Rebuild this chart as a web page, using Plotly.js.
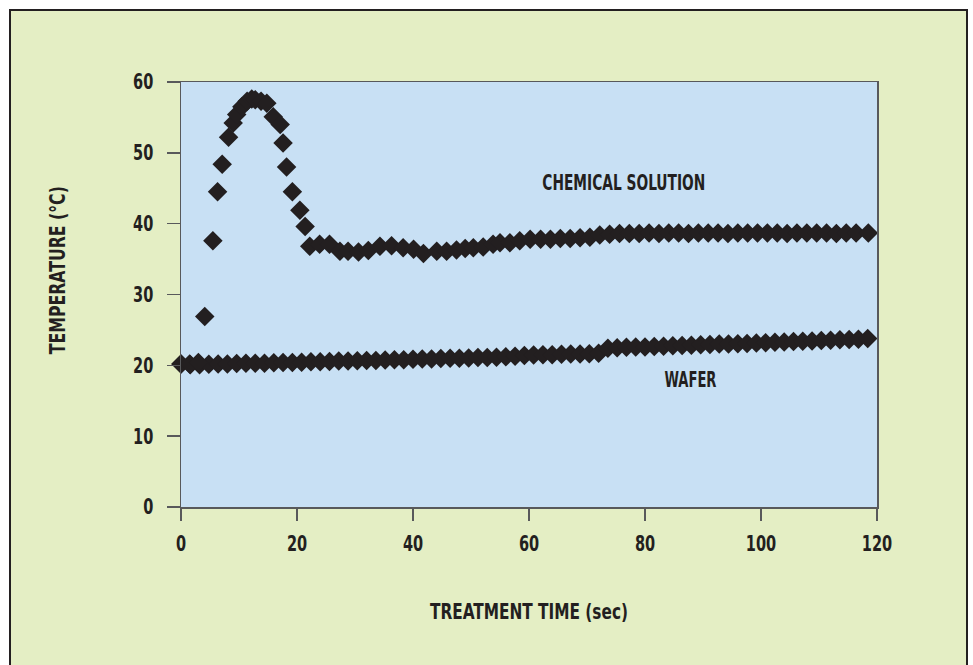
<!DOCTYPE html>
<html>
<head>
<meta charset="utf-8">
<script src="https://cdn.plot.ly/plotly-3.0.1.min.js"></script>
<style>
  html, body { margin: 0; padding: 0; background: #ffffff; overflow: hidden; }
  #frame { position: absolute; left: 9px; top: 9px; width: 955px; height: 660px;
           border-left: 2px solid #231f20; border-top: 2px solid #231f20; border-right: 2px solid #231f20;
           background: #e4eec4; }
  #chart { width: 955px; height: 660px; }
</style>
</head>
<body>
<div id="frame"><div id="chart"></div></div>
<script>
// Chemical solution temperature (°C) vs treatment time (sec)
const chemTime = [0, 1.5, 3, 4.1, 5.5, 6.3, 7.1, 8.2, 9.0, 9.6, 10.5, 11.4, 12.2, 12.8, 13.8, 14.8, 15.9, 17.1, 17.6, 18.2, 19.2, 20.5, 21.4, 22.2,
  23.9, 25.6, 27.4, 28.8, 30.6, 32.3, 34.3, 36.3, 38.3, 40.1, 41.8, 44.1, 45.8, 47.5, 49.0, 50.4, 52.1, 53.8, 55.0, 56.7, 58.4, 60.2, 62.0,
  63.7, 65.4, 67.1, 68.8, 70.5, 72.2, 73.9, 75.6, 77.3, 79.0, 80.7, 82.4, 84.1, 85.8, 87.5, 89.2, 90.9, 92.6, 94.3, 96.0, 97.7, 99.4,
  101.1, 102.8, 104.5, 106.2, 107.9, 109.6, 111.3, 113.0, 114.7, 116.4, 118.5];
const chemTemp = [20.2, 20.2, 20.4, 26.9, 37.6, 44.5, 48.4, 52.2, 54.2, 55.4, 56.5, 57.3, 57.6, 57.5, 57.3, 57.0, 55.1, 54.0, 51.4, 48.0, 44.5, 41.9, 39.6, 36.8,
  37.1, 37.1, 36.1, 36.1, 36.0, 36.2, 36.8, 36.9, 36.6, 36.4, 35.8, 36.1, 36.1, 36.3, 36.5, 36.6, 36.7, 37.1, 37.3, 37.3, 37.6, 37.8, 37.8,
  37.8, 37.9, 37.9, 38.0, 38.1, 38.4, 38.5, 38.6, 38.6, 38.6, 38.7, 38.6, 38.7, 38.7, 38.6, 38.7, 38.7, 38.7, 38.6, 38.7, 38.7, 38.7,
  38.7, 38.7, 38.6, 38.7, 38.7, 38.7, 38.7, 38.6, 38.7, 38.7, 38.7];

// Wafer temperature (°C) vs treatment time (sec)
const waferTime = [0, 1.6, 3.2, 4.8, 6.4, 8.0, 9.6, 11.2, 12.8, 14.4, 16.0, 17.6, 19.2, 20.8, 22.4, 24.0, 25.6, 27.2, 28.8, 30.4,
  32.0, 33.6, 35.2, 36.8, 38.4, 40.0, 41.6, 43.2, 44.8, 46.4, 48.0, 49.6, 51.2, 52.8, 54.4, 56.0, 57.6, 59.2, 60.8, 62.4,
  64.0, 65.6, 67.2, 68.8, 70.4, 72.0, 73.6, 75.2, 76.8, 78.4, 80.0, 81.6, 83.2, 84.8, 86.4, 88.0, 89.6, 91.2, 92.8, 94.4,
  96.0, 97.6, 99.2, 100.8, 102.4, 104.0, 105.6, 107.2, 108.8, 110.4, 112.0, 113.6, 115.2, 116.8, 118.4];
const waferTemp = [20.2, 20.1, 20.1, 20.15, 20.2, 20.2, 20.25, 20.3, 20.3, 20.3, 20.35, 20.4, 20.4, 20.45, 20.5, 20.5, 20.55, 20.6, 20.6, 20.65,
  20.7, 20.7, 20.75, 20.8, 20.8, 20.85, 20.9, 20.9, 20.95, 21.0, 21.0, 21.05, 21.1, 21.1, 21.15, 21.2, 21.3, 21.4, 21.45, 21.5,
  21.5, 21.55, 21.6, 21.6, 21.65, 21.7, 22.4, 22.5, 22.55, 22.6, 22.6, 22.65, 22.7, 22.75, 22.8, 22.85, 22.9, 22.95, 23.0, 23.0,
  23.05, 23.1, 23.15, 23.2, 23.25, 23.3, 23.35, 23.4, 23.45, 23.5, 23.55, 23.6, 23.65, 23.7, 23.8];

const xTicks = [0, 20, 40, 60, 80, 100, 120];
const yTicks = [0, 10, 20, 30, 40, 50, 60];
const xTitle = 'TREATMENT TIME (sec)';
const yTitle = 'TEMPERATURE (°C)';
const labelChem = 'CHEMICAL SOLUTION';
const labelWafer = 'WAFER';

const FONT = "'Liberation Sans Narrow', 'DejaVu Sans Condensed', 'Arial Narrow', sans-serif";
const INK = '#231f20';
const AXIS = '#58595b';

// target rendered lengths (px) to mimic the condensed typeface of the original
const textWidths = {};
textWidths[xTitle] = 198;
textWidths[yTitle] = 168;
textWidths[labelChem] = 163;
textWidths[labelWafer] = 52;
const tickSqueeze = 0.77;

const marker = { symbol: 'diamond', size: 15, color: INK, line: { width: 0 } };

const traces = [
  { x: waferTime, y: waferTemp, mode: 'markers', type: 'scatter', marker: marker, cliponaxis: false, name: labelWafer },
  { x: chemTime, y: chemTemp, mode: 'markers', type: 'scatter', marker: marker, cliponaxis: false, name: labelChem }
];

const bold = (size) => ({ family: FONT, size: size, color: INK, weight: 'bold' });

const layout = {
  width: 955, height: 660,
  margin: { l: 170, r: 89, t: 71, b: 164 },
  paper_bgcolor: 'rgba(0,0,0,0)',
  plot_bgcolor: '#c8e0f4',
  showlegend: false,
  font: bold(21),
  xaxis: {
    range: [0, 120], tickvals: xTicks, ticktext: xTicks.map(String),
    showgrid: false, zeroline: false,
    showline: true, mirror: true, linecolor: AXIS, linewidth: 1.5,
    ticks: 'outside', ticklen: 12, tickwidth: 1.5, tickcolor: AXIS,
    ticklabelstandoff: 5,
    tickfont: bold(21),
    title: { text: xTitle, standoff: 49, font: bold(21) },
    automargin: false
  },
  yaxis: {
    range: [0, 60], tickvals: yTicks, ticktext: yTicks.map(String),
    showgrid: false, zeroline: false,
    showline: true, mirror: true, linecolor: AXIS, linewidth: 1.5,
    ticks: 'outside', ticklen: 13, tickwidth: 1.5, tickcolor: AXIS,
    ticklabelstandoff: 9,
    tickfont: bold(21),
    automargin: false
  },
  annotations: [
    { x: -0.1767, y: 0.5576, xref: 'paper', yref: 'paper', text: yTitle, textangle: -90, showarrow: false,
      xanchor: 'center', yanchor: 'middle', font: bold(21) },
    { x: 76.3, y: 45.7, xref: 'x', yref: 'y', text: labelChem, showarrow: false, font: bold(21) },
    { x: 87.9, y: 18.0, xref: 'x', yref: 'y', text: labelWafer, showarrow: false, font: bold(21) }
  ]
};

Plotly.newPlot('chart', traces, layout, { displayModeBar: false, staticPlot: true }).then(function (gd) {
  gd.querySelectorAll('svg text').forEach(function (el) {
    const s = el.textContent;
    const w = el.getComputedTextLength();
    if (!w) return;
    const target = (s in textWidths) ? textWidths[s] : w * tickSqueeze;
    el.setAttribute('textLength', target.toFixed(1));
    el.setAttribute('lengthAdjust', 'spacingAndGlyphs');
  });
});
</script>
</body>
</html>
